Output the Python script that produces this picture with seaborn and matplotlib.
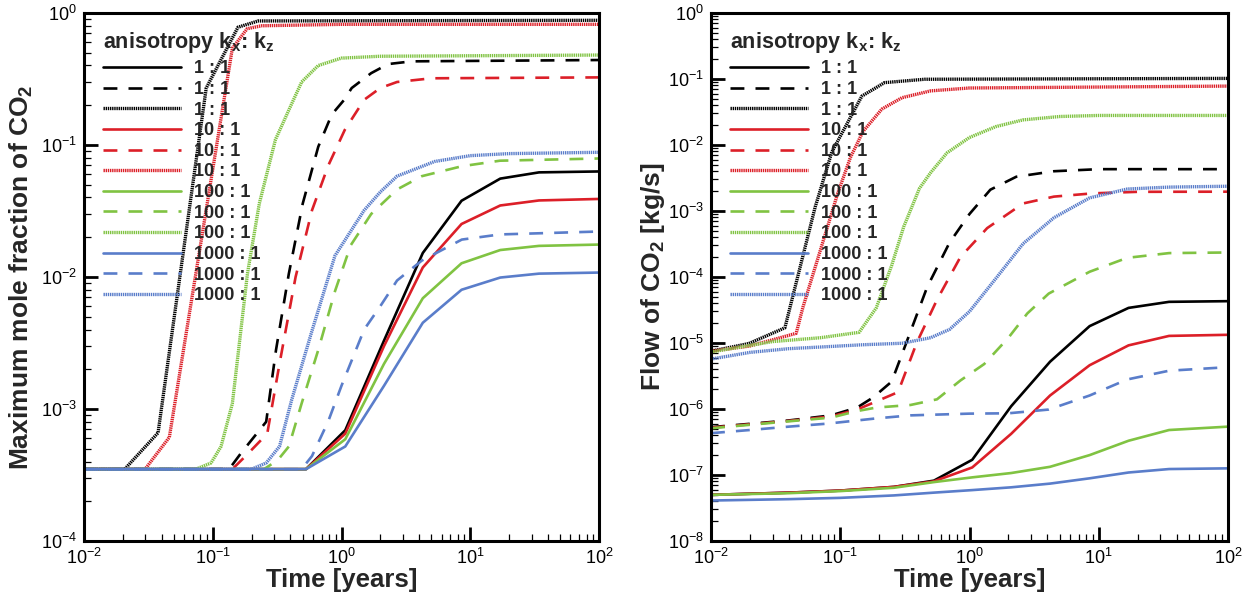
import numpy as np
import pandas as pd
import matplotlib
matplotlib.use("Agg")
import matplotlib.pyplot as plt
import seaborn as sns
from matplotlib.ticker import LogLocator, NullFormatter

# ==========================================
# DATA
# ==========================================
ratios = ["1 : 1", "10 : 1", "100 : 1", "1000 : 1"]
ratio_colors = ["#000000", "#dc1f28", "#80c342", "#5a7dca"]
line_kinds = ["solid", "dashed", "dotted"]

# --- left panel: maximum mole fraction of CO2 ---
mf_1_solid = ([0.01, 0.53, 1.07, 2.14, 4.28, 8.56, 17.1, 34.2, 100],
              [3.5e-4, 3.5e-4, 6.9e-4, 3.3e-3, 0.0152, 0.0378, 0.0556, 0.062, 0.063])
mf_1_dashed = ([0.01, 0.134, 0.165, 0.26, 0.31, 0.39, 0.5, 0.66, 0.84, 1.05, 1.2, 1.7, 2.3, 3.5, 100],
               [3.5e-4, 3.5e-4, 4.6e-4, 8e-4, 2.8e-3, 0.0106, 0.036, 0.097, 0.17, 0.22, 0.27, 0.35, 0.41, 0.43, 0.44])
mf_1_dotted = ([0.01, 0.0207, 0.0376, 0.089, 0.157, 0.225, 100],
               [3.5e-4, 3.5e-4, 6.6e-4, 0.27, 0.78, 0.87, 0.88])

mf_10_solid = ([0.01, 0.53, 1.07, 2.14, 4.28, 8.56, 17.1, 34.2, 100],
               [3.5e-4, 3.5e-4, 6.5e-4, 3.0e-3, 0.0118, 0.0252, 0.0348, 0.038, 0.039])
mf_10_dashed = ([0.01, 0.142, 0.18, 0.265, 0.33, 0.44, 0.59, 0.79, 1.06, 1.5, 2.0, 2.7, 5.0, 100],
                [3.5e-4, 3.5e-4, 4.4e-4, 6.5e-4, 2.2e-3, 0.01, 0.032, 0.07, 0.13, 0.22, 0.27, 0.30, 0.32, 0.325])
mf_10_dotted = ([0.01, 0.0298, 0.046, 0.142, 0.185, 0.24, 1.0, 100],
                [3.5e-4, 3.5e-4, 6.1e-4, 0.54, 0.76, 0.80, 0.82, 0.82])

mf_100_solid = ([0.01, 0.53, 1.07, 2.14, 4.28, 8.56, 17.1, 34.2, 100],
                [3.5e-4, 3.5e-4, 5.9e-4, 2.2e-3, 6.9e-3, 0.0127, 0.016, 0.0172, 0.0176])
mf_100_dashed = ([0.01, 0.25, 0.32, 0.39, 0.49, 0.66, 0.89, 1.18, 1.7, 2.7, 4.2, 8.6, 17, 100],
                 [3.5e-4, 3.5e-4, 4.1e-4, 5.2e-4, 1.1e-3, 2.8e-3, 7.8e-3, 0.0174, 0.030, 0.046, 0.058, 0.069, 0.076, 0.079])
mf_100_dotted = ([0.01, 0.074, 0.097, 0.116, 0.142, 0.186, 0.23, 0.307, 0.49, 0.66, 1.0, 2.0, 100],
                 [3.5e-4, 3.5e-4, 3.9e-4, 5.2e-4, 1.1e-3, 0.0106, 0.036, 0.11, 0.30, 0.40, 0.455, 0.47, 0.48])

mf_1000_solid = ([0.01, 0.53, 1.07, 2.14, 4.28, 8.56, 17.1, 34.2, 100],
                 [3.5e-4, 3.5e-4, 5.2e-4, 1.5e-3, 4.5e-3, 8.0e-3, 9.9e-3, 0.0106, 0.0108])
mf_1000_dashed = ([0.01, 0.49, 0.59, 0.79, 1.0, 1.5, 2.0, 2.7, 4.2, 8.6, 17, 100],
                  [3.5e-4, 3.5e-4, 4.4e-4, 8.1e-4, 1.5e-3, 4e-3, 6e-3, 9.4e-3, 0.0133, 0.0192, 0.021, 0.0221])
mf_1000_dotted = ([0.01, 0.2, 0.26, 0.33, 0.41, 0.58, 0.89, 1.5, 2.0, 2.7, 5.3, 10, 20, 100],
                  [3.5e-4, 3.5e-4, 3.9e-4, 5.2e-4, 1.17e-3, 3.7e-3, 0.0145, 0.032, 0.044, 0.058, 0.075, 0.083, 0.086, 0.088])

# --- right panel: flow of CO2 [kg/s] ---
fl_1_solid = ([0.01, 0.04, 0.1, 0.26, 0.53, 1.05, 2.1, 4.2, 8.5, 17, 35, 100],
              [5e-8, 5.4e-8, 5.8e-8, 6.6e-8, 8.2e-8, 1.7e-7, 1.1e-6, 5.2e-6, 1.8e-5, 3.4e-5, 4.2e-5, 4.3e-5])
fl_1_dashed = ([0.01, 0.04, 0.085, 0.135, 0.18, 0.25, 0.33, 0.47, 0.7, 1.0, 1.45, 2.3, 4.5, 10, 100],
               [5.3e-7, 6.7e-7, 8e-7, 1.05e-6, 1.5e-6, 2.6e-6, 1.1e-5, 7e-5, 3.3e-4, 9e-4, 2.1e-3, 3.3e-3, 4.0e-3, 4.3e-3, 4.3e-3])
fl_1_dotted = ([0.01, 0.0196, 0.0373, 0.064, 0.086, 0.147, 0.22, 0.45, 100],
               [7.5e-6, 9.8e-6, 1.7e-5, 1.15e-3, 7.8e-3, 0.055, 0.088, 0.099, 0.102])

fl_10_solid = ([0.01, 0.04, 0.1, 0.26, 0.53, 1.05, 2.1, 4.2, 8.5, 17, 35, 100],
               [5e-8, 5.4e-8, 5.8e-8, 6.6e-8, 8e-8, 1.3e-7, 4.2e-7, 1.6e-6, 4.6e-6, 9.2e-6, 1.28e-5, 1.33e-5])
fl_10_dashed = ([0.01, 0.04, 0.085, 0.135, 0.19, 0.28, 0.39, 0.56, 0.85, 1.37, 2.6, 4.5, 9, 20, 100],
                [5.2e-7, 6.6e-7, 7.7e-7, 9.8e-7, 1.3e-6, 1.8e-6, 1e-5, 4.5e-5, 2e-4, 5.5e-4, 1.3e-3, 1.65e-3, 1.85e-3, 1.95e-3, 1.96e-3])
fl_10_dotted = ([0.01, 0.02, 0.0456, 0.0515, 0.096, 0.12, 0.15, 0.21, 0.3, 0.5, 1.0, 100],
                [7.5e-6, 9e-6, 1.4e-5, 3.5e-5, 1.9e-3, 6.5e-3, 0.016, 0.035, 0.052, 0.066, 0.073, 0.078])

fl_100_solid = ([0.01, 0.04, 0.1, 0.26, 0.53, 1.05, 2.1, 4.2, 8.5, 17, 35, 100],
                [5e-8, 5.3e-8, 5.7e-8, 6.4e-8, 7.8e-8, 9.2e-8, 1.07e-7, 1.33e-7, 2e-7, 3.3e-7, 4.8e-7, 5.4e-7])
fl_100_dashed = ([0.01, 0.04, 0.085, 0.135, 0.19, 0.35, 0.56, 0.85, 1.3, 2.0, 2.8, 4.1, 8.5, 16.6, 35, 100],
                 [5.1e-7, 6.5e-7, 7.4e-7, 9.3e-7, 1.05e-6, 1.15e-6, 1.4e-6, 2.7e-6, 4.8e-6, 1.2e-5, 2.8e-5, 5.6e-5, 1.2e-4, 1.95e-4, 2.3e-4, 2.35e-4])
fl_100_dotted = ([0.01, 0.03, 0.07, 0.14, 0.19, 0.25, 0.31, 0.41, 0.5, 0.67, 1.0, 1.6, 2.6, 5, 10, 100],
                 [7.3e-6, 1.05e-5, 1.2e-5, 1.45e-5, 3.4e-5, 1.5e-4, 5.8e-4, 2.2e-3, 3.8e-3, 7.6e-3, 0.013, 0.019, 0.024, 0.027, 0.028, 0.028])

fl_1000_solid = ([0.01, 0.04, 0.1, 0.26, 0.53, 1.05, 2.1, 4.2, 8.5, 17, 35, 100],
                 [4.1e-8, 4.3e-8, 4.5e-8, 4.9e-8, 5.4e-8, 5.9e-8, 6.5e-8, 7.4e-8, 8.9e-8, 1.09e-7, 1.23e-7, 1.26e-7])
fl_1000_dashed = ([0.01, 0.02, 0.04, 0.08, 0.19, 0.35, 1.0, 2.0, 4.1, 8.5, 16.6, 35, 100],
                  [4.3e-7, 4.8e-7, 5.4e-7, 6e-7, 7.2e-7, 8e-7, 8.5e-7, 8.6e-7, 9.8e-7, 1.6e-6, 2.8e-6, 3.8e-6, 4.3e-6])
fl_1000_dotted = ([0.01, 0.02, 0.04, 0.08, 0.15, 0.3, 0.5, 0.7, 1.0, 1.6, 2.6, 4.5, 8.5, 16.6, 35, 100],
                  [5.7e-6, 7.2e-6, 8.2e-6, 8.8e-6, 9.4e-6, 9.9e-6, 1.2e-5, 1.6e-5, 3e-5, 9.5e-5, 3.2e-4, 7.9e-4, 1.58e-3, 2.15e-3, 2.3e-3, 2.37e-3])

left_series = [mf_1_solid, mf_1_dashed, mf_1_dotted,
               mf_10_solid, mf_10_dashed, mf_10_dotted,
               mf_100_solid, mf_100_dashed, mf_100_dotted,
               mf_1000_solid, mf_1000_dashed, mf_1000_dotted]
right_series = [fl_1_solid, fl_1_dashed, fl_1_dotted,
                fl_10_solid, fl_10_dashed, fl_10_dotted,
                fl_100_solid, fl_100_dashed, fl_100_dotted,
                fl_1000_solid, fl_1000_dashed, fl_1000_dotted]

# ==========================================
# STYLE
# ==========================================
sns.set_style("ticks")
plt.rcParams["font.family"] = ["Liberation Sans", "DejaVu Sans"]
plt.rcParams["mathtext.fontset"] = "custom"
plt.rcParams["mathtext.rm"] = "Liberation Sans"
plt.rcParams["mathtext.bf"] = "Liberation Sans:bold"
plt.rcParams["mathtext.it"] = "Liberation Sans:italic"
plt.rcParams["lines.scale_dashes"] = False
plt.rcParams["axes.unicode_minus"] = False

dash_styles = {"solid": "-", "dashed": (0, (10, 8)), "dotted": (0, (1.0, 0.55))}
line_widths = {"solid": 1.9, "dashed": 1.9, "dotted": 2.4}


def build_frame(series_list):
    rows = []
    for i, (t, v) in enumerate(series_list):
        ratio = ratios[i // 3]
        kind = line_kinds[i % 3]
        for tt, vv in zip(t, v):
            rows.append({"time": tt, "value": vv, "ratio": ratio, "kind": kind, "idx": i})
    return pd.DataFrame(rows)


def draw_panel(ax, df, ylim, ylabel, ypad):
    ax.set_xscale("log")
    ax.set_yscale("log")
    for i in range(12):
        sub = df[df["idx"] == i]
        r = ratios.index(sub["ratio"].iloc[0])
        kind = sub["kind"].iloc[0]
        sns.lineplot(data=sub, x="time", y="value", ax=ax, color=ratio_colors[r],
                     linestyle=dash_styles[kind], linewidth=line_widths[kind], sort=False,
                     estimator=None, label=f"{ratios[r]}")
    ax.set_xlim(1e-2, 1e2)
    ax.set_ylim(*ylim)
    for s in ax.spines.values():
        s.set_visible(True)
        s.set_linewidth(2.2)
        s.set_color("black")
    ax.xaxis.set_major_locator(LogLocator(base=10, numticks=20))
    ax.yaxis.set_major_locator(LogLocator(base=10, numticks=20))
    ax.xaxis.set_minor_locator(LogLocator(base=10, subs=np.arange(2, 10) * 1.0, numticks=100))
    ax.yaxis.set_minor_locator(LogLocator(base=10, subs=np.arange(2, 10) * 1.0, numticks=100))
    ax.xaxis.set_minor_formatter(NullFormatter())
    ax.yaxis.set_minor_formatter(NullFormatter())
    ax.tick_params(which="major", direction="in", length=10, width=2.0, labelsize=13,
                   top=False, right=False, pad=5, colors="black")
    ax.tick_params(which="minor", direction="in", length=5, width=0.9,
                   top=False, right=False, colors="black")
    ax.set_xlabel("Time [years]", fontsize=18.5, fontweight="bold", labelpad=0)
    ax.set_ylabel(ylabel, fontsize=19, fontweight="bold", labelpad=ypad)
    handles, labels = ax.get_legend_handles_labels()
    leg = ax.legend(handles, labels, loc="upper left", bbox_to_anchor=(0.037, 0.968),
                    frameon=False, title=r"anisotropy $\mathbf{k_x}$: $\mathbf{k_z}$",
                    title_fontproperties={"weight": "bold", "size": 15.5},
                    prop={"weight": "bold", "size": 13}, handlelength=4.3,
                    handletextpad=0.75, labelspacing=0.2, borderpad=0.0,
                    borderaxespad=0.0, alignment="left")
    leg._legend_box.sep = 4
    return leg


fig = plt.figure(figsize=(12.5, 6.06), dpi=100)
ax1 = fig.add_axes([0.0672, 0.1073, 0.412, 0.8713])
ax2 = fig.add_axes([0.5688, 0.1073, 0.4136, 0.8713])

draw_panel(ax1, build_frame(left_series), (1e-4, 1e0),
           r"Maximum mole fraction of $\mathbf{CO_2}$", 4)
draw_panel(ax2, build_frame(right_series), (1e-8, 1e0),
           r"Flow of $\mathbf{CO_2}$ [kg/s]", 1)

fig.savefig("out.png", dpi=100)
